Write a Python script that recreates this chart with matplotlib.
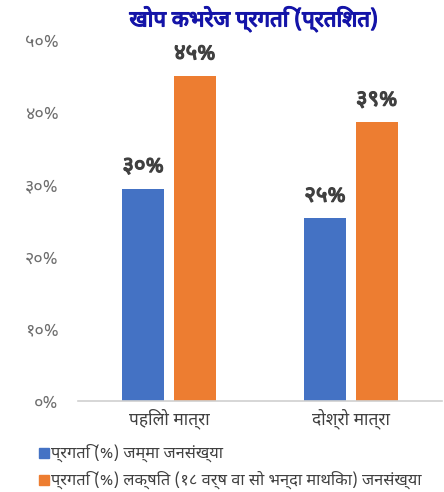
import matplotlib
matplotlib.use("Agg")
import matplotlib.pyplot as plt
from matplotlib import font_manager
from matplotlib.patches import Rectangle
import matplotlib.patheffects as pe
import numpy as np

categories = ["पहिलो मात्रा", "दोश्रो मात्रा"]
series_names = ["प्रगति (%) जम्मा जनसंख्या",
                "प्रगति (%) लक्षित (१८ वर्ष वा सो भन्दा माथिका) जनसंख्या"]
total_pop = [29.4, 25.3]
target_pop = [45.0, 38.6]
total_labels = ["३०%", "२५%"]
target_labels = ["४५%", "३९%"]
ytick_vals = [0, 10, 20, 30, 40, 50]
ytick_labels = ["०%", "१०%", "२०%", "३०%", "४०%", "५०%"]
title = "खोप कभरेज प्रगति (प्रतिशत)"
colors = ["#4472C4", "#ED7D31"]

available = {f.name for f in font_manager.fontManager.ttflist}
preferred = ["Noto Sans Devanagari", "Hind", "Mukta", "Poppins", "Yantramanav",
             "Lohit Devanagari", "Kalimati", "Mangal", "FreeSans"]
dev_family = next((p for p in preferred if p in available), None)
fams = ([dev_family] if dev_family else []) + ["DejaVu Sans"]
plt.rcParams['font.family'] = fams


def boldfx(color, lw):
    return [pe.withStroke(linewidth=lw, foreground=color)]


fig = plt.figure(figsize=(4.44, 4.92), dpi=100)
ax = fig.add_axes([0.176, 0.185, 0.819, 0.734])

x = np.arange(len(categories)) + 0.5
w = 0.23
off = 0.142
b1 = ax.bar(x - off, total_pop, w, color=colors[0], label=series_names[0])
b2 = ax.bar(x + off, target_pop, w, color=colors[1], label=series_names[1])
for bars, labs in ((b1, total_labels), (b2, target_labels)):
    for rect, lab in zip(bars, labs):
        ax.text(rect.get_x() + rect.get_width() / 2, rect.get_height() + 1.6, lab,
                ha="center", va="bottom", fontsize=16, fontweight="bold", color="#404040",
                path_effects=boldfx("#404040", 0.9))

ax.set_xlim(0, 2)
ax.set_ylim(0, 50)
ax.set_yticks(ytick_vals)
ax.set_yticklabels(ytick_labels, color="#6E6E6E", fontsize=13)
ax.set_xticks(x)
ax.set_xticklabels(categories, fontsize=12.5, color="#404040")
ax.tick_params(axis="both", length=0)
ax.tick_params(axis="y", pad=14)
ax.tick_params(axis="x", pad=5)
for s in ["top", "right", "left"]:
    ax.spines[s].set_visible(False)
ax.spines["bottom"].set_color("#D0D0D0")
ax.spines["bottom"].set_linewidth(1.2)

fig.text(0.572, 0.961, title, ha="center", va="center", fontsize=16,
         fontweight="bold", color="#1414A8", path_effects=boldfx("#1414A8", 0.9))

for i, (name, c) in enumerate(zip(series_names, colors)):
    yy = 1 - (453 + i * 27) / 492
    fig.patches.append(Rectangle((39 / 444, yy - 5 / 492), 10 / 444, 10 / 492,
                                 transform=fig.transFigure, color=c, figure=fig))
    fig.text(51 / 444, yy, name, ha="left", va="center", fontsize=11.8, color="#404040")

fig.savefig("out.png", dpi=100)
